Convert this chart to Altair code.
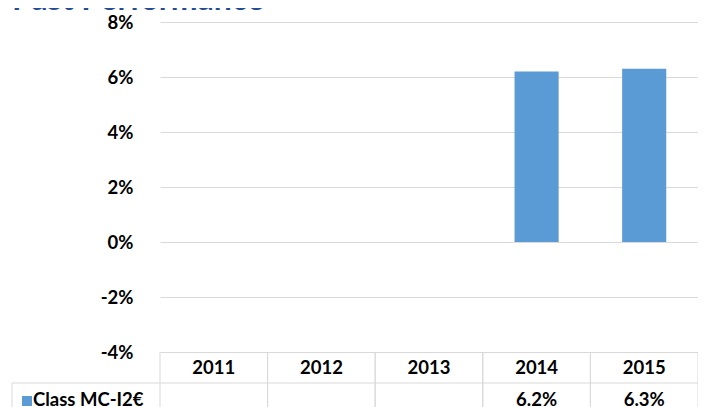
import altair as alt
import pandas as pd

# ---- data ----
years = ["2011", "2012", "2013", "2014", "2015"]
returns = [None, None, None, 6.2, 6.3]          # % per year
series_name = "Class MC-I2€"
y_ticks = [-4, -2, 0, 2, 4, 6, 8]
chart_title = "Past Performance"

BAR = "#5B9BD5"
GRID = "#D9D9D9"
FONT = "Lato"
FS = 18.5
W, H = 538, 330
LEFT = 152

df = pd.DataFrame({"year": years, "value": returns})

xscale = alt.Scale(domain=years, paddingInner=0, paddingOuter=0)
base = alt.Chart(df).encode(x=alt.X("year:N", scale=xscale, axis=None))

bars = base.transform_filter("isValid(datum.value)").mark_bar(
    color=BAR, width={"band": 0.41}
).encode(
    y=alt.Y(
        "value:Q",
        scale=alt.Scale(domain=[-4, 8], nice=False, zero=False),
        axis=alt.Axis(
            values=y_ticks,
            labelExpr="datum.value + '%'",
            grid=True,
            gridColor=GRID,
            ticks=False,
            domain=False,
            labelPadding=27,
            labelFont=FONT,
            labelFontSize=FS,
            labelFontWeight="bold",
            labelColor="#000000",
            title=None,
        ),
    )
)

# table: header row with years
header = base.mark_text(
    font=FONT, fontSize=FS, fontWeight="bold", color="#000000", baseline="middle"
).encode(text="year:N", y=alt.value(H + 16))

# table: value row
values_txt = base.transform_filter("isValid(datum.value)").transform_calculate(
    lbl="format(datum.value, '.1f') + '%'"
).mark_text(
    font=FONT, fontSize=FS, fontWeight="bold", color="#000000", baseline="middle"
).encode(text="lbl:N", y=alt.value(H + 48))

# table grid lines
vlines_left = base.mark_rule(color=GRID, strokeWidth=1).encode(
    x=alt.X("year:N", scale=xscale, axis=None, bandPosition=0),
    y=alt.value(H), y2=alt.value(H + 80),
)
vlines_right = base.mark_rule(color=GRID, strokeWidth=1).encode(
    x=alt.X("year:N", scale=xscale, axis=None, bandPosition=1),
    y=alt.value(H), y2=alt.value(H + 80),
)

row_df = pd.DataFrame({"name": [series_name]})
row_base = alt.Chart(row_df)
hsep = row_base.mark_rule(color=GRID, strokeWidth=1).encode(
    x=alt.value(-148), x2=alt.value(W), y=alt.value(H + 31)
)
row_left = row_base.mark_rule(color=GRID, strokeWidth=1).encode(
    x=alt.value(-148), y=alt.value(H + 31), y2=alt.value(H + 80)
)
row_square = row_base.mark_square(size=100, color=BAR, opacity=1).encode(
    x=alt.value(-133), y=alt.value(H + 49)
)
row_label = row_base.mark_text(
    font=FONT, fontSize=FS, fontWeight="bold", color="#000000",
    align="left", baseline="middle"
).encode(text="name:N", x=alt.value(-127), y=alt.value(H + 48))

title_df = pd.DataFrame({"t": [chart_title]})
title = alt.Chart(title_df).mark_text(
    font=FONT, fontSize=32, fontWeight="bold", color="#1F4E96",
    align="left", baseline="alphabetic"
).encode(text="t:N", x=alt.value(-148), y=alt.value(-12))

chart = alt.layer(
    vlines_left, vlines_right, hsep, row_left, bars, header, values_txt,
    row_square, row_label, title
).properties(
    width=W,
    height=H,
    padding={"left": LEFT, "top": 14, "right": 0, "bottom": 60},
    autosize=alt.AutoSizeParams(type="none"),
    background="white",
).configure_view(stroke="transparent", strokeWidth=0)

chart.save("out.html", embed_options={"renderer": "svg", "actions": False})
